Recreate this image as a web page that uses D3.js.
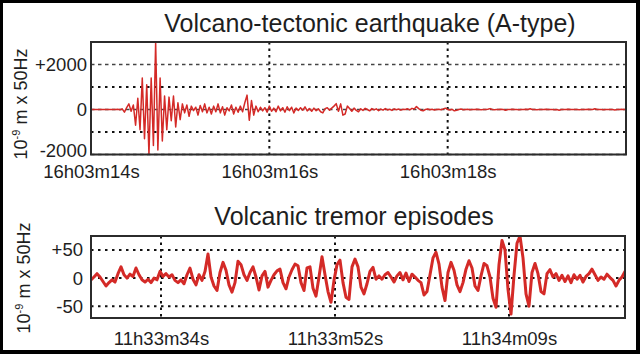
<!DOCTYPE html>
<html>
<head>
<meta charset="utf-8">
<script src="https://cdn.jsdelivr.net/npm/d3@7"></script>
<style>
  html, body { margin: 0; padding: 0; background: #000; }
  svg { display: block; }
</style>
</head>
<body>
<div id="chart"></div>
<script>
// A-type event, seconds after 16h03m, one sample every 0.025 s (10^-9 m x 50Hz)
const quakeStart = 14;
const quakeStep = 0.025;
const quakeValues = [
    0, 0, 0, 0, 0, 0, 0, 0, 0, 0, 0, 0, 10, -10,
    30, -120, 80, 250, -80, 200, -700, 500, -900, 1400,
    -1300, 1100, -2000, 1400, -1600, 3000, -1800, 1400, -1400, 600,
    -900, 550, -500, 600, -780, 300, -450, 250, -150, 200,
    -300, 150, -50, 100, -250, 180, -100, 250, -150, 100,
    -200, 150, -100, 250, -150, 120, -250, 80, -60, 200,
    -200, 100, -120, 150, -100, 300, 640, -480, 400, -250,
    150, -100, 100, -60, 80, -120, 150, -80, 60, -100,
    150, -60, 80, -120, 120, -50, 100, -150, 60, -40,
    80, -30, 120, -60, 40, -80, 60, -50, 30, -100,
    -150, 40, 80, -30, 60, 150, 260, -80, 250, -250,
    -200, 150, 40, -80, 60, -40, -100, 30, -40, 50,
    0, -60, 40, -20, 30, -50, 20, -30, 40, -20,
    10, -40, 30, -10, 20, -30, 10, 0, 30, -20,
    50, 20, 130, 40, -30, -60, 0, 20, -10, 10,
    -20, 0, 10, -10, 20, 60, 0, -20, 10, -60,
    -30, 0, 20, -10, 0, 10, -10, 0,
    0, 10, 0, -10, 0, 0, 10, 40, 0, -10,
    0, 0, 10, 0, -30, 0, 0, 10, 0, 0,
    -10, 0, 0, 10, 0, 30, 0, 0, -10, 0,
    0, 0, 10, 0, 0, 0, -10, 0, -30, 0,
    0, 0, 10, 0, 0, 0, 0, -10, 0, 0,
    0, 10, 0, 0, 30, 0, 0, 0, -10, 0,
    0, 0, 0, -20, 0, 0, 10, 0, 0
];
const quakeXTicks = [14, 16, 18];
const quakeXLabels = ["16h03m14s", "16h03m16s", "16h03m18s"];
const quakeYTicks = [-2000, 0, 2000];
const quakeYLabels = ["-2000", "0", "+2000"];
const quakeMinorGrid = [-1000, 1000];

// tremor, seconds after 11h33m, one sample every 0.3 s
const tremorStart = 27.4;
const tremorStep = 0.3;
const tremorValues = [
    -3, 2, 8, 2, -6, -14, -8, -3, -7, 8,
    20, 6, 0, 7, 3, 18, 6, -3, -7, -2,
    -8, 0, -3, 12, 3, 8, 2, 6, -4, -8,
    -3, -10, 6, 18, -2, -12, 6, -4, 12, 43,
    2, -14, -22, 10, 28, 14, -12, -25, -8, 30,
    24, 6, -4, 10, 20, 2, -21, 4, 12, -16,
    -4, 6, 13, 16, -8, -19, 2, 15, 25, 22,
    -8, -22, 18, 20, -18, -32, 2, 38, 6, -24,
    -43, -4, 24, 32, -8, -34, -38, 20, 34, 20,
    -16, -28, -10, 12, 19, -2, 4, -2, 6, 10,
    2, -7, 4, 10, -3, 9, -6, 7, 2, -4,
    -8, -30, -24, 6, 36, 46, 25, -16, -40, 10,
    28, 14, -12, -24, -8, 16, 31, 18, -14, -22,
    4, 26, 22, 2, -36, -52, 24, 67, 50, -20,
    -64, 5, 62, 75, 36, -28, -50, 10, 26, 8,
    -24, -28, 8, 15, 2, 8, -4, 5, -6, 4,
    -8, 6, -2, 5, -7, 3, 8, 16, 6, -4,
    2, -2, 7, 1, -4, -14, -4, 2, 12, 6
];
const tremorXTicks = [34.4, 51.8, 69.2];
const tremorXLabels = ["11h33m34s", "11h33m52s", "11h34m09s"];
const tremorYTicks = [-50, 0, 50];
const tremorYLabels = ["-50", "0", "+50"];

const font = "'Liberation Sans', Arial, sans-serif";
const traceColor = "#d42a27";

function drawPanel(svg, p) {
    const x = d3.scaleLinear().domain(p.xDomain).range([p.left, p.right]);
    const y = d3.scaleLinear().domain(p.yDomain).range([p.bottom, p.top]);

    const clipId = "clip-" + p.id;
    svg.append("clipPath").attr("id", clipId)
        .append("rect")
        .attr("x", p.left).attr("y", p.top)
        .attr("width", p.right - p.left).attr("height", p.bottom - p.top);

    const grid = svg.append("g");
    // labelled levels
    grid.selectAll(".major").data(p.yTicks).join("line")
        .attr("x1", p.left).attr("x2", p.right)
        .attr("y1", d => y(d)).attr("y2", d => y(d))
        .attr("stroke", p.majorColor).attr("stroke-width", p.majorWidth)
        .attr("stroke-dasharray", p.majorDash);
    grid.selectAll(".minor").data(p.minorGrid).join("line")
        .attr("x1", p.left).attr("x2", p.right)
        .attr("y1", d => y(d)).attr("y2", d => y(d))
        .attr("stroke", "#111").attr("stroke-width", 2)
        .attr("stroke-dasharray", "2.5,4.5");
    grid.selectAll(".vert").data(p.xTicks.filter(t => x(t) > p.left + 2)).join("line")
        .attr("x1", d => x(d)).attr("x2", d => x(d))
        .attr("y1", p.top).attr("y2", p.bottom)
        .attr("stroke", "#111").attr("stroke-width", 2)
        .attr("stroke-dasharray", "2.5,4");

    const line = d3.line()
        .x((d, i) => x(p.start + i * p.step))
        .y(d => y(d));

    svg.append("path")
        .datum(p.values)
        .attr("clip-path", `url(#${clipId})`)
        .attr("fill", "none")
        .attr("stroke", traceColor)
        .attr("stroke-width", p.traceWidth)
        .attr("stroke-linejoin", "round")
        .attr("d", line);

    svg.append("rect")
        .attr("x", p.left).attr("y", p.top)
        .attr("width", p.right - p.left).attr("height", p.bottom - p.top)
        .attr("fill", "none").attr("stroke", "#2b2b2b").attr("stroke-width", 2);

    const yAxis = svg.append("g")
        .attr("transform", `translate(${p.left},0)`)
        .call(d3.axisLeft(y).tickValues(p.yTicks).tickSize(0).tickPadding(p.yPad)
            .tickFormat((d, i) => p.yLabels[i]));
    yAxis.select(".domain").remove();
    // lowest label sits a little higher, clear of the time labels
    yAxis.selectAll(".tick text").filter((d, i) => i === 0).attr("dy", p.lowDy);

    const xAxis = svg.append("g")
        .attr("transform", `translate(0,${p.bottom})`)
        .call(d3.axisBottom(x).tickValues(p.xTicks).tickSize(0).tickPadding(p.xPad)
            .tickFormat((d, i) => p.xLabels[i]));
    xAxis.select(".domain").remove();

    svg.selectAll(".tick text")
        .attr("font-family", font).attr("font-size", "18.5px").attr("fill", "#1e1e1e");

    svg.append("text")
        .attr("x", p.titleX).attr("y", p.titleY)
        .attr("text-anchor", "middle")
        .attr("font-family", font).attr("font-size", "25px").attr("fill", "#1e1e1e")
        .text(p.title);

    const ylab = svg.append("text")
        .attr("transform", `translate(${p.ylabX},${p.ylabY}) rotate(-90)`)
        .attr("text-anchor", "middle")
        .attr("font-family", font).attr("font-size", "18px").attr("fill", "#1e1e1e");
    ylab.append("tspan").text("10");
    ylab.append("tspan").attr("font-size", "11px").attr("dy", -7).text("-9");
    ylab.append("tspan").attr("dy", 7).text(" m x 50Hz");
}

function drawChart() {
    const width = 640, height = 354;
    const svg = d3.select("#chart").append("svg")
        .attr("width", width).attr("height", height);

    svg.append("rect").attr("width", width).attr("height", height).attr("fill", "#000");
    svg.append("rect").attr("x", 3).attr("y", 3)
        .attr("width", 633).attr("height", 347).attr("fill", "#fff");

    drawPanel(svg, {
        id: "quake",
        values: quakeValues, start: quakeStart, step: quakeStep,
        xDomain: [14, 20], yDomain: [-2000, 3000],
        left: 91, right: 626, top: 42, bottom: 154.5,
        xTicks: quakeXTicks, xLabels: quakeXLabels,
        yTicks: quakeYTicks, yLabels: quakeYLabels,
        minorGrid: quakeMinorGrid,
        majorColor: "#444", majorWidth: 1.3, majorDash: "3.5,3.5",
        traceWidth: 1.5,
        yPad: 4, xPad: 10, lowDy: "0.12em",
        title: "Volcano-tectonic earthquake (A-type)", titleX: 370, titleY: 32,
        ylabX: 27, ylabY: 104
    });

    drawPanel(svg, {
        id: "tremor",
        values: tremorValues, start: tremorStart, step: tremorStep,
        xDomain: [27.4, 80.8], yDomain: [-71, 75],
        left: 91, right: 625, top: 236, bottom: 318,
        xTicks: tremorXTicks, xLabels: tremorXLabels,
        yTicks: tremorYTicks, yLabels: tremorYLabels,
        minorGrid: [],
        majorColor: "#111", majorWidth: 2, majorDash: "2.5,4.5",
        traceWidth: 3,
        yPad: 8, xPad: 13.5, lowDy: "0.32em",
        title: "Volcanic tremor episodes", titleX: 354, titleY: 225,
        ylabX: 30, ylabY: 278
    });
}

drawChart();
</script>
</body>
</html>
